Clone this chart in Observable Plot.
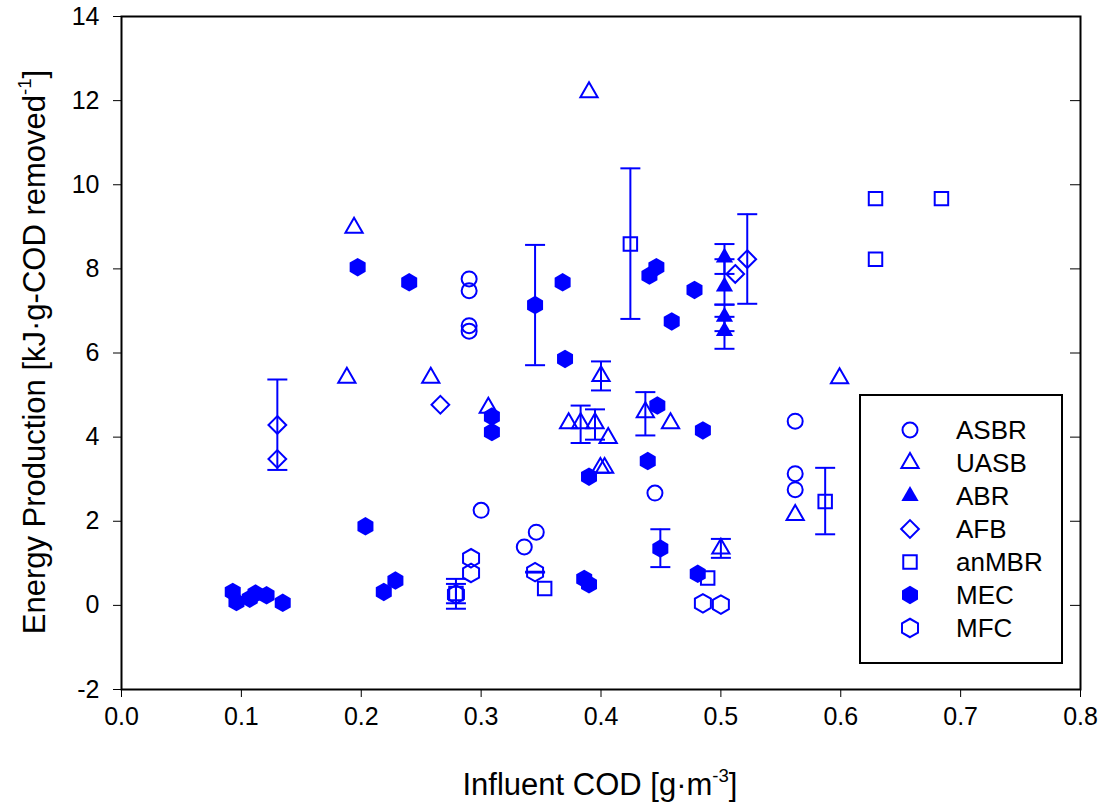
<!DOCTYPE html>
<html><head><meta charset="utf-8">
<script src="https://cdn.jsdelivr.net/npm/d3@7"></script>
<script src="https://cdn.jsdelivr.net/npm/@observablehq/plot@0.6"></script>
<style>
html,body{margin:0;padding:0;background:#fff;}
#wrap{position:relative;width:1102px;height:808px;font-family:"Liberation Sans",Arial,sans-serif;color:#000;}
.title{position:absolute;white-space:nowrap;font-size:31px;line-height:1;}
.title sup{font-size:0.6em;vertical-align:0.7em;line-height:0;}
#xt{left:600px;top:769px;transform:translateX(-50%);}
#yt{left:34px;top:352px;transform:translate(-50%,-50%) rotate(-90deg);}
#leg{position:absolute;left:0;top:0;}
</style></head><body><div id="wrap"></div>
<script>
// ---- data ----
const xTicks = [0, 0.1, 0.2, 0.3, 0.4, 0.5, 0.6, 0.7, 0.8];
const yTicks = [-2, 0, 2, 4, 6, 8, 10, 12, 14];
const seriesNames = ["ASBR", "UASB", "ABR", "AFB", "anMBR", "MEC", "MFC"];

const asbr = [[0.290,7.76],[0.290,7.48],[0.290,6.65],[0.290,6.52],[0.300,2.26],[0.336,1.39],[0.346,1.74],[0.445,2.67],[0.562,4.38],[0.562,3.13],[0.562,2.75]];
const uasb = [[0.194,8.98],[0.390,12.20],[0.188,5.41],[0.258,5.41],[0.306,4.70],[0.373,4.33],[0.383,4.33],[0.395,4.33],[0.406,3.98],[0.400,5.45],[0.437,4.59],[0.458,4.33],[0.3995,3.27],[0.403,3.27],[0.500,1.35],[0.562,2.15],[0.599,5.40]];
const uasbErr = [[0.383,3.86,4.75],[0.395,3.94,4.66],[0.400,5.11,5.80],[0.437,4.04,5.07],[0.500,1.13,1.58]];
const abr = [[0.503,8.27],[0.503,7.58],[0.503,6.86],[0.503,6.52]];
const abrErr = [[0.503,7.88,8.59],[0.503,7.15,8.23],[0.503,6.52,7.15],[0.503,6.10,6.86]];
const afb = [[0.130,4.29],[0.130,3.48],[0.266,4.77],[0.512,7.88],[0.522,8.23]];
const afbErr = [[0.130,3.22,5.37],[0.522,7.17,9.30]];
const anmbr = [[0.4245,8.59],[0.279,0.28],[0.353,0.40],[0.489,0.65],[0.587,2.47],[0.629,9.67],[0.684,9.67],[0.629,8.23]];
const anmbrErr = [[0.4245,6.81,10.39],[0.587,1.69,3.27],[0.279,-0.08,0.63]];
const mec = [[0.197,8.04],[0.240,7.68],[0.345,7.14],[0.368,7.68],[0.370,5.86],[0.4404,7.84],[0.4462,8.04],[0.478,7.50],[0.459,6.75],[0.309,4.49],[0.309,4.12],[0.447,4.75],[0.485,4.16],[0.439,3.43],[0.390,3.06],[0.2035,1.88],[0.2285,0.59],[0.2188,0.32],[0.0928,0.32],[0.0959,0.08],[0.107,0.16],[0.1118,0.28],[0.121,0.24],[0.1345,0.06],[0.386,0.63],[0.390,0.50],[0.4495,1.35],[0.4807,0.75]];
const mecErr = [[0.345,5.71,8.57],[0.4495,0.91,1.81]];
const mfc = [[0.2916,1.12],[0.2916,0.77],[0.345,0.79],[0.279,0.26],[0.485,0.05],[0.500,0.02]];
const mfcErr = [[0.345,0.78,0.80],[0.279,0.05,0.51]];

// ---- styling ----
const blue = "#0000ff";
const hexagon = {draw(ctx, size){ const rx = Math.sqrt(size/Math.PI), ry = rx*2/Math.sqrt(3), hy = ry/2;
  ctx.moveTo(0,ry); ctx.lineTo(rx,hy); ctx.lineTo(rx,-hy); ctx.lineTo(0,-ry); ctx.lineTo(-rx,-hy); ctx.lineTo(-rx,hy); ctx.closePath(); }};
const cap = {draw(ctx){ ctx.moveTo(-10,0); ctx.lineTo(10,0); }};
const sym = {
  ASBR:{type:d3.symbolCircle, r:7.5, fill:false},
  UASB:{type:d3.symbolTriangle, r:6.4, fill:false},
  ABR:{type:d3.symbolTriangle, r:6.4, fill:true},
  AFB:{type:d3.symbolDiamond2, r:8.0, fill:false},
  anMBR:{type:d3.symbolSquare, r:7.6, fill:false},
  MEC:{type:hexagon, r:8.0, fill:true},
  MFC:{type:hexagon, r:8.0, fill:false}
};
const seriesData = {ASBR:asbr, UASB:uasb, ABR:abr, AFB:afb, anMBR:anmbr, MEC:mec, MFC:mfc};
const errData = [uasbErr, abrErr, afbErr, anmbrErr, mecErr, mfcErr];

const marks = [];
for (const e of errData) {
  marks.push(Plot.ruleX(e, {x: d=>d[0], y1: d=>d[1], y2: d=>d[2], stroke: blue, strokeWidth: 2}));
  marks.push(Plot.dot(e, {x: d=>d[0], y: d=>d[1], symbol: cap, stroke: blue, strokeWidth: 2, r: 5}));
  marks.push(Plot.dot(e, {x: d=>d[0], y: d=>d[2], symbol: cap, stroke: blue, strokeWidth: 2, r: 5}));
}
for (const name of seriesNames) {
  const s = sym[name];
  marks.push(Plot.dot(seriesData[name], {x: d=>d[0], y: d=>d[1], symbol: s.type, r: s.r,
    stroke: s.fill ? "none" : blue, fill: s.fill ? blue : "none", strokeWidth: 2}));
}
marks.push(Plot.axisX({ticks: xTicks, tickSize: 8, tickPadding: 10, tickFormat: d=>d.toFixed(1), fontSize: 25, label: null}));
marks.push(Plot.axisY({anchor: "left", ticks: yTicks, tickSize: 8, tickPadding: 14, tickFormat: d=>String(d), fontSize: 25, label: null}));
marks.push(Plot.axisY({anchor: "right", ticks: yTicks, tickSize: -11, tickFormat: ()=>"", label: null}));
marks.push(Plot.frame({stroke: "black", strokeWidth: 2}));

const chart = Plot.plot({
  width: 1102, height: 808,
  marginLeft: 121, marginRight: 22, marginTop: 16, marginBottom: 119,
  x: {domain: [0, 0.8]},
  y: {domain: [-2, 14]},
  style: {fontFamily: "Liberation Sans, Arial, sans-serif", color: "black", background: "white", overflow: "visible"},
  marks
});
const wrap = document.getElementById("wrap");
wrap.appendChild(chart);

// axis titles
const xt = document.createElement("div"); xt.className = "title"; xt.id = "xt";
xt.innerHTML = "Influent COD [g·m<sup>-3</sup>]"; wrap.appendChild(xt);
const yt = document.createElement("div"); yt.className = "title"; yt.id = "yt";
yt.innerHTML = "Energy Production [kJ·g-COD removed<sup>-1</sup>]"; wrap.appendChild(yt);

// legend
const leg = d3.select(wrap).append("svg").attr("id","leg").attr("width",1102).attr("height",808);
leg.append("rect").attr("x",860).attr("y",395).attr("width",202).attr("height",268)
  .attr("fill","white").attr("stroke","black").attr("stroke-width",2);
seriesNames.forEach((name,i) => {
  const s = sym[name], y = 430 + i*33;
  leg.append("path").attr("transform",`translate(910,${y})`)
    .attr("d", d3.symbol(s.type, Math.PI*s.r*s.r)())
    .attr("fill", s.fill ? blue : "none").attr("stroke", s.fill ? "none" : blue).attr("stroke-width", 2);
  leg.append("text").attr("x",956).attr("y",y).attr("dy","0.36em")
    .attr("font-family","Liberation Sans, Arial, sans-serif").attr("font-size",26).text(name);
});
</script>
</body></html>
